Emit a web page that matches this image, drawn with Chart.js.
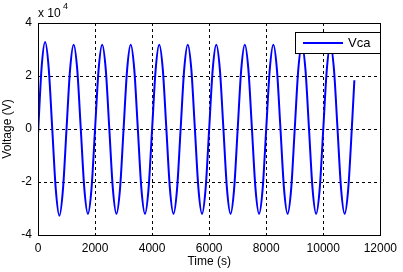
<!DOCTYPE html>
<html>
<head>
<meta charset="utf-8">
<script src="https://cdn.jsdelivr.net/npm/chart.js@4"></script>
<style>
  html, body { margin: 0; padding: 0; background: #fff; }
  #wrap { width: 403px; height: 272px; }
</style>
</head>
<body>
<div id="wrap"><canvas id="chart" width="403" height="272"></canvas></div>
<script>
// Time axis samples (s)
const times = [
  0, 125, 250, 375, 500, 625, 750, 875,
  1000, 1125, 1250, 1375, 1500, 1625, 1750, 1875,
  2000, 2125, 2250, 2375, 2500, 2625, 2750, 2875,
  3000, 3125, 3250, 3375, 3500, 3625, 3750, 3875,
  4000, 4125, 4250, 4375, 4500, 4625, 4750, 4875,
  5000, 5125, 5250, 5375, 5500, 5625, 5750, 5875,
  6000, 6125, 6250, 6375, 6500, 6625, 6750, 6875,
  7000, 7125, 7250, 7375, 7500, 7625, 7750, 7875,
  8000, 8125, 8250, 8375, 8500, 8625, 8750, 8875,
  9000, 9125, 9250, 9375, 9500, 9625, 9750, 9875,
  10000, 10125, 10250, 10375, 10500, 10625, 10750, 10875,
  11000, 11090
];

// Vca in units of 1e4 V
const vca = [
  -0.2, 2.3, 3.28, 2.3, 0, -2.3, -3.27, -2.28,
  0, 2.25, 3.18, 2.25, 0, -2.26, -3.2, -2.26,
  0, 2.25, 3.18, 2.25, 0, -2.26, -3.2, -2.26,
  0, 2.25, 3.18, 2.25, 0, -2.26, -3.2, -2.26,
  0, 2.25, 3.18, 2.25, 0, -2.26, -3.2, -2.26,
  0, 2.25, 3.18, 2.25, 0, -2.26, -3.2, -2.26,
  0, 2.25, 3.18, 2.25, 0, -2.26, -3.2, -2.26,
  0, 2.25, 3.18, 2.25, 0, -2.26, -3.2, -2.26,
  0, 2.25, 3.18, 2.25, 0, -2.26, -3.2, -2.26,
  0, 2.25, 3.18, 2.25, 0, -2.26, -3.2, -2.26,
  0, 2.25, 3.18, 2.25, 0, -2.26, -3.2, -2.26,
  0, 1.84
];

const xTicks = [0, 2000, 4000, 6000, 8000, 10000, 12000];
const yTicks = [-4, -2, 0, 2, 4];

const FONT = "'Liberation Sans', Arial, sans-serif";

// frame, exponent label and legend box (MATLAB style)
const matlabDecor = {
  id: "matlabDecor",
  afterDraw(chart) {
    const { ctx, chartArea: a } = chart;
    ctx.save();
    ctx.strokeStyle = "#000";
    ctx.lineWidth = 1;
    ctx.setLineDash([]);
    ctx.strokeRect(Math.round(a.left) + 0.5, Math.round(a.top) + 0.5,
      Math.round(a.right - a.left), Math.round(a.bottom - a.top));

    // x 10^4
    ctx.fillStyle = "#000";
    ctx.textBaseline = "middle";
    ctx.textAlign = "left";
    ctx.font = "12px " + FONT;
    ctx.fillText("x 10", 38, 14);
    ctx.font = "9px " + FONT;
    ctx.fillText("4", 63, 7);

    // legend
    const ds = chart.data.datasets[0];
    const bx = 295, by = 32, bw = 85, bh = 21;
    ctx.fillStyle = "#fff";
    ctx.fillRect(bx, by, bw, bh);
    ctx.strokeRect(bx + 0.5, by + 0.5, bw, bh);
    ctx.strokeStyle = ds.borderColor;
    ctx.lineWidth = 2;
    ctx.beginPath();
    ctx.moveTo(303, by + 11);
    ctx.lineTo(343, by + 11);
    ctx.stroke();
    ctx.fillStyle = "#000";
    ctx.font = "13px " + FONT;
    ctx.fillText(ds.label, 348, by + 11.5);
    ctx.restore();
  }
};

new Chart(document.getElementById("chart"), {
  type: "line",
  data: {
    datasets: [
      {
        label: "Vca",
        data: times.map((t, i) => ({ x: t, y: vca[i] })),
        borderColor: "#0000ff",
        borderWidth: 2,
        pointRadius: 0,
        cubicInterpolationMode: "monotone",
        fill: false
      }
    ]
  },
  options: {
    responsive: false,
    animation: false,
    layout: { padding: { top: 23, right: 20, left: 0, bottom: 0 } },
    plugins: { legend: { display: false }, tooltip: { enabled: false } },
    scales: {
      x: {
        type: "linear",
        min: 0,
        max: 12000,
        afterBuildTicks: (s) => { s.ticks = xTicks.map((v) => ({ value: v })); },
        afterFit: (s) => { s.height = 37; },
        grid: { color: "#000", lineWidth: 1, drawTicks: false },
        border: { display: false, dash: [3, 3] },
        ticks: { color: "#000", font: { family: FONT, size: 12 }, padding: 6, maxRotation: 0,
          callback: (v) => String(v) },
        title: { display: true, text: "Time (s)", color: "#000",
          font: { family: FONT, size: 12 }, padding: { top: 0, bottom: 3 } }
      },
      y: {
        type: "linear",
        min: -4,
        max: 4,
        afterBuildTicks: (s) => { s.ticks = yTicks.map((v) => ({ value: v })); },
        afterFit: (s) => { s.width = 38; },
        grid: { color: "#000", lineWidth: 1, drawTicks: false },
        border: { display: false, dash: [3, 3] },
        ticks: { color: "#000", font: { family: FONT, size: 12 }, padding: 6,
          callback: (v) => String(v) },
        title: { display: true, text: "Voltage (V)", color: "#000",
          font: { family: FONT, size: 12 }, padding: { top: 0, bottom: 0 } }
      }
    }
  },
  plugins: [matlabDecor]
});
</script>
</body>
</html>
